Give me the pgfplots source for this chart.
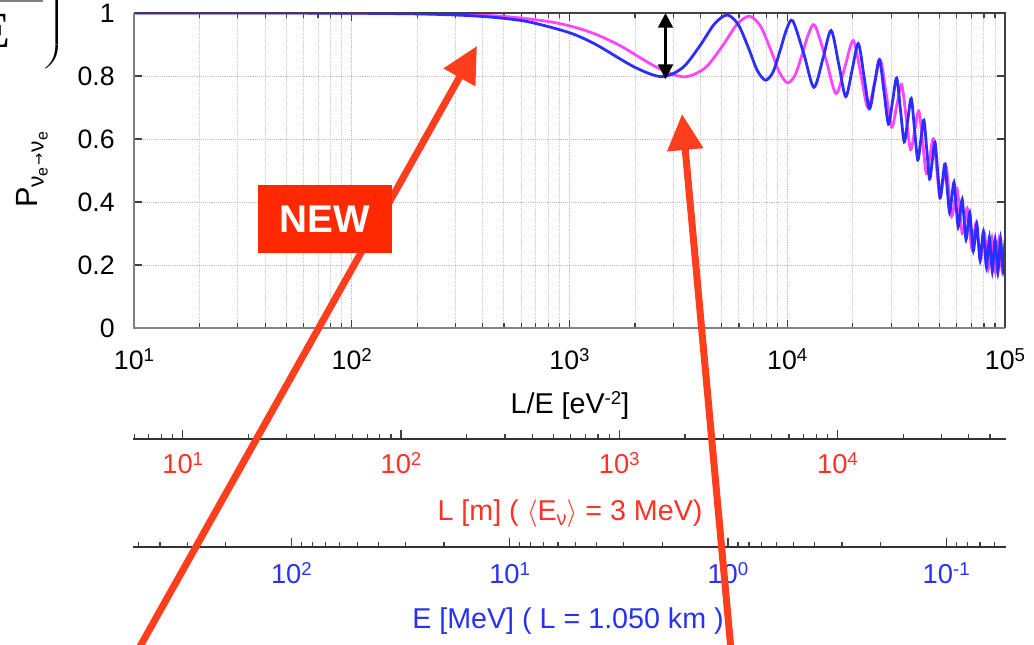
\documentclass[border=0pt]{standalone}
\usepackage{pgfplots}
\pgfplotsset{compat=1.18}
\usepackage{fontspec}
\setmainfont{Liberation Sans}
\newfontfamily\seriffont{Liberation Serif}
\newfontfamily\symfont{DejaVu Sans}
\usetikzlibrary{arrows.meta}

\definecolor{curveblue}{RGB}{45,45,255}
\definecolor{curvemag}{RGB}{255,70,255}
\definecolor{labred}{RGB}{255,50,40}
\definecolor{labblue}{RGB}{40,50,245}
\definecolor{arrowred}{RGB}{255,62,30}
\definecolor{boxred}{RGB}{255,40,0}
\definecolor{framegray}{RGB}{128,128,128}
\definecolor{griddot}{RGB}{190,190,190}

\newcommand\sups[1]{\raisebox{6.5pt}{\fontsize{14}{14}\selectfont #1}}
\newcommand\tickfont{\fontsize{20}{24}\selectfont}
\newcommand\lowtickfont{\fontsize{20.5}{24}\selectfont}
\newcommand\labfont{\fontsize{21.5}{26}\selectfont}

\begin{document}
\begin{tikzpicture}

% survival probability versus L/E
\begin{axis}[
  name=main,
  at={(100.5pt,-246pt)}, anchor=south west,
  width=653.25pt, height=236.25pt, scale only axis,
  xmode=log, xmin=10, xmax=100000, ymin=0, ymax=1,
  xtick={10,100,1000,10000,100000},
  xticklabels={10\sups{1},10\sups{2},10\sups{3},10\sups{4},10\sups{5}},
  minor xtick={20,30,40,50,60,70,80,90,200,300,400,500,600,700,800,900,
    2000,3000,4000,5000,6000,7000,8000,9000,
    20000,30000,40000,50000,60000,70000,80000,90000},
  ytick={0,0.2,0.4,0.6,0.8,1},
  yticklabels={0,0.2,0.4,0.6,0.8,1},
  xticklabel style={font=\tickfont, anchor=north, inner sep=0pt, yshift=-15pt},
  yticklabel style={font=\tickfont, anchor=east, inner sep=0pt, xshift=-14.25pt},
  tick align=inside,
  major tick length=6pt, minor tick length=3.75pt,
  tick style={black!75, line width=0.9pt},
  grid=both,
  major grid style={densely dotted, griddot, line width=0.7pt},
  minor grid style={densely dotted, griddot!80, line width=0.7pt},
  axis line style={draw=none},
]
\addplot[curvemag, line width=2.1pt, smooth] coordinates {
(10,1.0) (20,1.0) (50,0.9999) (100,0.99956) (200,0.99825) (300,0.99606)
(500,0.98922) (837.5,0.9707) (1200,0.9431) (1675,0.8994) (2512.5,0.8279)
(3350,0.7975) (4187.5,0.8254) (5025,0.8943) (5862.5,0.9630) (6700,0.9899)
(7537.5,0.958) (8375,0.8848) (9212.5,0.8111) (10050,0.7784) (10887.5,0.8046)
(11725,0.8704) (12562.5,0.9361) (13400,0.9602) (15075,0.8519) (16750,0.7444)
(18425,0.831) (20100,0.9124) (21775,0.8049) (23450,0.6995) (25125,0.7761)
(26800,0.849) (28475,0.7425) (30150,0.6373) (31825,0.706) (33500,0.7732)
(35175,0.6682) (36850,0.566) (38525,0.6291) (40200,0.6891) (41875,0.5887)
(43550,0.4899) (45225,0.5467) (46900,0.6005) (48575,0.5052) (50250,0.4144)
(51925,0.4662) (53600,0.5132) (55275,0.4337) (56950,0.3555) (58625,0.3996)
(60300,0.4401) (61975,0.3685) (63650,0.3003) (65325,0.3302) (67000,0.3802)
(68675,0.3161) (70350,0.2528) (72025,0.2935) (73700,0.3336) (75375,0.2728)
(77050,0.2142) (78725,0.257) (80400,0.3008) (82075,0.2444) (83750,0.1873)
(85425,0.2345) (87100,0.2841) (88775,0.2301) (90450,0.1771) (92125,0.2291)
(93800,0.2815) (95475,0.2306) (97150,0.181) (98825,0.235) (100000,0.282)
};
\addplot[curveblue, line width=2.1pt, smooth] coordinates {
(10,1.0) (20,0.99999) (50,0.9998) (100,0.9993) (200,0.9972) (300,0.9937)
(400,0.989) (500,0.983) (662.5,0.9707) (1000,0.9374) (1325,0.8996)
(1987.5,0.8284) (2650,0.798) (3312.5,0.8268) (3975,0.8964) (4637.5,0.9659)
(5300,0.9937) (5962.5,0.9627) (6625,0.8902) (7287.5,0.8174) (7950,0.7868)
(8612.5,0.8135) (9275,0.8813) (9937.5,0.9489) (10600,0.9749) (11925,0.8694)
(13250,0.7641) (14575,0.8546) (15900,0.9444) (17225,0.8385) (18550,0.735)
(19875,0.8203) (21200,0.903) (22525,0.7986) (23850,0.6966) (25175,0.7756)
(26500,0.8521) (27825,0.7496) (29150,0.6476) (30475,0.7212) (31800,0.7934)
(33125,0.6912) (34450,0.5907) (35775,0.6609) (37100,0.7289) (38425,0.630)
(39750,0.5339) (41075,0.598) (42400,0.6601) (43725,0.5656) (45050,0.473)
(46375,0.5328) (47700,0.59) (49025,0.5001) (50350,0.4132) (51675,0.469)
(53000,0.5207) (54325,0.4385) (55650,0.367) (56975,0.4164) (58300,0.4624)
(59625,0.3894) (60950,0.3208) (62275,0.366) (63600,0.4084) (64925,0.3432)
(66250,0.2813) (67575,0.324) (68900,0.3661) (70225,0.305) (71550,0.2454)
(72875,0.2881) (74200,0.3303) (75525,0.272) (76850,0.2151) (78175,0.2596)
(79500,0.3043) (80825,0.2484) (82150,0.1927) (83475,0.2399) (84800,0.2876)
(86125,0.2335) (87450,0.1801) (88775,0.2301) (90100,0.28) (91425,0.229)
(92750,0.1776) (94075,0.2297) (95400,0.2825) (96725,0.2323) (98050,0.1823)
(99375,0.2357) (100000,0.271)
};
% depth of the first dip
\draw[black, line width=2pt, {Triangle[width=11pt,length=11pt]}-{Triangle[width=11pt,length=11pt]}]
  (axis cs:2760,1) -- (axis cs:2760,0.79);
\end{axis}

% frame of the main plot
\draw[black!75, line width=1.2pt] (main.north west) -- (main.north east) -- (main.south east);
\draw[framegray, line width=1.9pt] (main.north west) -- (main.south west) -- (main.south east);

% distance scale for a 3 MeV neutrino
\begin{axis}[
  at={(99.75pt,-329.25pt)}, anchor=south west,
  width=654.75pt, height=15pt, scale only axis,
  xmode=log, xmin=5.92, xmax=59200, ymin=0, ymax=1,
  axis y line=none, axis x line=bottom,
  x axis line style={-, black!80, line width=1.5pt},
  xtick={10,100,1000,10000},
  xticklabels={10\sups{1},10\sups{2},10\sups{3},10\sups{4}},
  minor xtick={6,7,8,9,20,30,40,50,60,70,80,90,200,300,400,500,600,700,800,900,
    2000,3000,4000,5000,6000,7000,8000,9000,20000,30000,40000,50000},
  xticklabel style={font=\lowtickfont, text=labred, anchor=north, inner sep=0pt, yshift=-9.75pt},
  tick align=inside,
  major tick length=6.5pt, minor tick length=3.75pt,
  tick style={black!75, line width=0.9pt},
]
\end{axis}

% energy scale for a 1.050 km baseline
\begin{axis}[
  at={(99.75pt,-410.25pt)}, anchor=south west,
  width=654.75pt, height=15pt, scale only axis,
  xmode=log, xmin=0.0532, xmax=532, x dir=reverse, ymin=0, ymax=1,
  axis y line=none, axis x line=bottom,
  x axis line style={-, black!80, line width=1.5pt},
  xtick={0.1,1,10,100},
  xticklabels={10\sups{-1},10\sups{0},10\sups{1},10\sups{2}},
  minor xtick={0.06,0.07,0.08,0.09,0.2,0.3,0.4,0.5,0.6,0.7,0.8,0.9,2,3,4,5,6,7,8,9,
    20,30,40,50,60,70,80,90,200,300,400,500},
  xticklabel style={font=\lowtickfont, text=labblue, anchor=north, inner sep=0pt, yshift=-11.25pt},
  tick align=inside,
  major tick length=6.5pt, minor tick length=3.75pt,
  tick style={black!75, line width=0.9pt},
]
\end{axis}

\begin{scope}[x=0.75pt,y=-0.75pt]
% axis titles
\node[anchor=base, inner sep=0pt] at (570,413) {\labfont L/E [eV\sups{-2}]};
\node[anchor=base, inner sep=0pt, rotate=90] at (37,170)
  {\fontsize{23}{26}\selectfont P\raisebox{-5pt}{\fontsize{17}{17}\selectfont ν\raisebox{-3pt}{\fontsize{12}{12}\selectfont e}\hspace{1pt}{\symfont\fontsize{11}{11}\selectfont →}\hspace{1pt}ν\raisebox{-3pt}{\fontsize{12}{12}\selectfont e}}};
\node[anchor=base, inner sep=0pt, text=labred] at (570,520)
  {\labfont L [m] ( $\langle$E\raisebox{-4pt}{\fontsize{15}{15}\selectfont ν}$\rangle$ = 3 MeV)};
\node[anchor=base, inner sep=0pt, text=labblue] at (568,628)
  {\labfont E [MeV] ( L = 1.050 km )};

% formula edge at the top left
\draw[gray, line width=1.5pt] (-5,1) -- (43,1);
\node[anchor=base east, inner sep=0pt] at (11,47) {\seriffont\fontsize{38}{40}\selectfont E};
\node[anchor=center, inner sep=0pt] at (54,14)
  {\scalebox{1.8}[1]{\fontsize{34}{40}\selectfont $\left.\vrule height 38pt depth 38pt width 0pt\right)$}};

% highlight arrows and tag
\draw[arrowred, line width=5.25pt, -{Triangle[width=26pt,length=27pt]}] (138,650) -- (477,46);
\draw[arrowred, line width=5.25pt, -{Triangle[width=26pt,length=27pt]}] (731,650) -- (682,114);
\fill[boxred] (258,185) rectangle (392,253);
\node[text=white, inner sep=0pt] at (325,219) {\bfseries\fontsize{29}{30}\selectfont NEW};

\pgfresetboundingbox
\path[use as bounding box] (0,0) rectangle (1034,644);
\end{scope}
\end{tikzpicture}
\end{document}
